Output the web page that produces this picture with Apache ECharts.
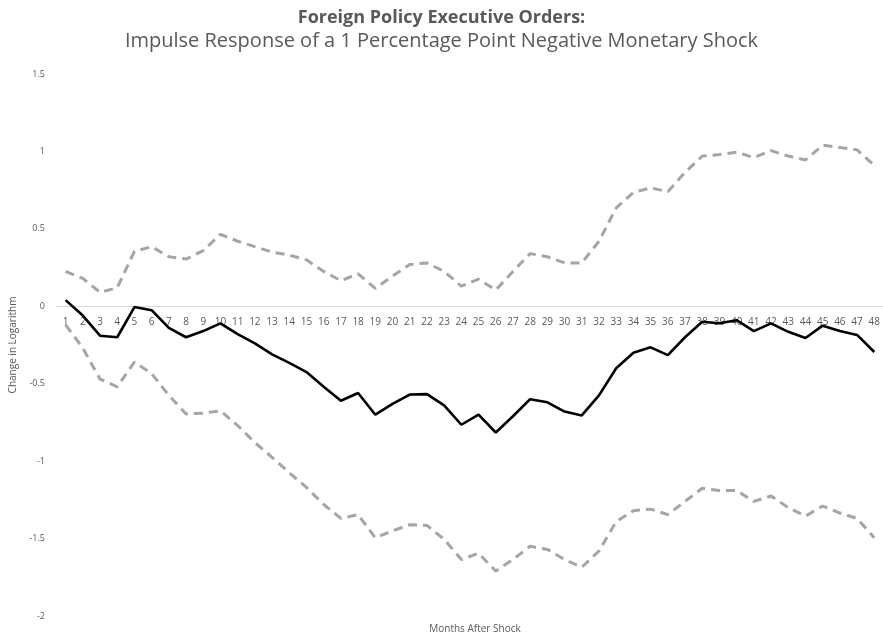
<!DOCTYPE html>
<html>
<head>
<meta charset="utf-8">
<script src="https://cdn.jsdelivr.net/npm/echarts@6/dist/echarts.min.js"></script>
<style>
  html, body { margin: 0; padding: 0; background: #fff; }
  #grafico { width: 883px; height: 633px; }
</style>
</head>
<body>
<div id="grafico"></div>
<script>
// ==============================================
// DATOS
// ==============================================

const meses = ['1','2','3','4','5','6','7','8','9','10','11','12','13','14','15','16',
  '17','18','19','20','21','22','23','24','25','26','27','28','29','30','31','32',
  '33','34','35','36','37','38','39','40','41','42','43','44','45','46','47','48'];

const respuesta = [0.04, -0.06, -0.19, -0.20, -0.005, -0.025, -0.14, -0.20, -0.16, -0.11,
  -0.18, -0.24, -0.31, -0.365, -0.425, -0.52, -0.61, -0.56, -0.70, -0.63,
  -0.57, -0.567, -0.64, -0.765, -0.70, -0.815, -0.71, -0.60, -0.62, -0.68,
  -0.705, -0.575, -0.40, -0.30, -0.265, -0.315, -0.20, -0.10, -0.11, -0.09,
  -0.16, -0.11, -0.165, -0.205, -0.125, -0.16, -0.185, -0.295];

const bandaSuperior = [0.225, 0.18, 0.09, 0.12, 0.355, 0.385, 0.32, 0.305, 0.36, 0.465,
  0.42, 0.385, 0.35, 0.33, 0.30, 0.225, 0.165, 0.21, 0.115, 0.195,
  0.27, 0.28, 0.225, 0.13, 0.175, 0.105, 0.225, 0.34, 0.32, 0.28,
  0.28, 0.42, 0.635, 0.735, 0.765, 0.74, 0.865, 0.97, 0.98, 0.995,
  0.96, 1.005, 0.97, 0.945, 1.04, 1.025, 1.01, 0.91];

const bandaInferior = [-0.12, -0.27, -0.47, -0.52, -0.36, -0.435, -0.575, -0.695, -0.69, -0.675,
  -0.77, -0.88, -0.975, -1.075, -1.17, -1.28, -1.37, -1.345, -1.495, -1.45,
  -1.41, -1.415, -1.505, -1.635, -1.595, -1.71, -1.635, -1.55, -1.57, -1.635,
  -1.685, -1.58, -1.39, -1.32, -1.31, -1.345, -1.26, -1.175, -1.19, -1.19,
  -1.26, -1.225, -1.30, -1.355, -1.29, -1.335, -1.37, -1.495];

const ticksY = [-2, -1.5, -1, -0.5, 0, 0.5, 1, 1.5];

// ==============================================
// GRÁFICO
// ==============================================

const gris = '#595959';
const fuente = '"Open Sans", "Noto Sans", sans-serif';

const grid = { left: 57, right: 0, top: 74, bottom: 17 };
const altoGrid = 633 - grid.top - grid.bottom;
const yMin = ticksY[0], yMax = ticksY[ticksY.length - 1];
// el eje X va sobre la línea del cero
const desplazamientoX = -altoGrid * (0 - yMin) / (yMax - yMin);

const chart = echarts.init(document.getElementById('grafico'));
chart.setOption({
    animation: false,
    backgroundColor: '#ffffff',
    title: [
        { text: 'Foreign Policy Executive Orders:', left: 'center', top: 4,
          textStyle: { color: gris, fontFamily: fuente, fontSize: 18, fontWeight: 'bold' } },
        { text: 'Impulse Response of a 1 Percentage Point Negative Monetary Shock', left: 'center', top: 26,
          textStyle: { color: gris, fontFamily: fuente, fontSize: 20, fontWeight: 'normal' } },
        { text: 'Months After Shock', left: 470, top: 619, textAlign: 'center',
          textStyle: { color: gris, fontFamily: fuente, fontSize: 10, fontWeight: 'normal' } }
    ],
    grid: grid,
    xAxis: {
        type: 'category',
        data: meses,
        boundaryGap: true,
        position: 'bottom',
        offset: desplazamientoX,
        axisLine: { onZero: false, lineStyle: { color: '#d9d9d9', width: 1 } },
        axisTick: { show: false },
        axisLabel: { color: gris, fontFamily: fuente, fontSize: 10, margin: 11, interval: 0 },
        splitLine: { show: false }
    },
    yAxis: {
        type: 'value',
        min: yMin,
        max: yMax,
        interval: 0.5,
        name: 'Change in Logarithm',
        nameLocation: 'middle',
        nameGap: 37,
        nameTextStyle: { color: gris, fontFamily: fuente, fontSize: 10 },
        axisLine: { show: false },
        axisTick: { show: false },
        axisLabel: { color: gris, fontFamily: fuente, fontSize: 9, margin: 12 },
        splitLine: { show: false }
    },
    series: [
        { name: 'Superior', type: 'line', data: bandaSuperior, symbol: 'none',
          lineStyle: { color: '#a5a5a5', width: 3, type: [9, 6] } },
        { name: 'Inferior', type: 'line', data: bandaInferior, symbol: 'none',
          lineStyle: { color: '#a5a5a5', width: 3, type: [9, 6] } },
        { name: 'Respuesta', type: 'line', data: respuesta, symbol: 'none',
          lineStyle: { color: '#000000', width: 2.6 } }
    ]
});
</script>
</body>
</html>
